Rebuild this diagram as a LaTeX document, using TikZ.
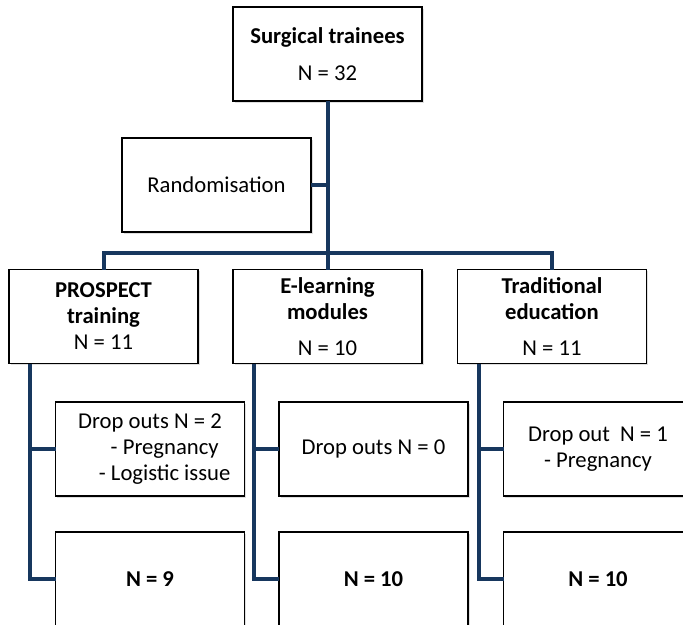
\documentclass[tikz,border=0pt]{standalone}
\usepackage{fontspec}
\setmainfont{Carlito}
\usetikzlibrary{shadows}
\definecolor{linkblue}{RGB}{23,55,94}
\begin{document}
\begin{tikzpicture}[x=0.75pt, y=-0.75pt,
  box/.style={draw=black, line width=0.9pt, fill=white, align=center,
    minimum width=141.75pt, minimum height=70.5pt, inner sep=2pt, outer sep=0pt,
    font=\fontsize{17}{19.5}\selectfont,
    drop shadow={opacity=0.25, shadow xshift=1.2pt, shadow yshift=-1.2pt}},
  link/.style={draw=linkblue, line width=3pt}]
\clip (0,0) rectangle (683,625);
\node[box] (top) at (327.5,54) {\textbf{Surgical trainees}\\[8pt] N = 32};
\node[box] (rand) at (216.5,185) {Randomisation};
\coordinate (split) at (327.5,253);
\node[box] (prospect) at (103.5,316.5) {\textbf{PROSPECT}\\ \textbf{training}\\ N = 11};
\node[box] (elearn) at (327.5,316.5) {\textbf{E-learning}\\ \textbf{modules}\\[7pt] N = 10};
\node[box] (trad) at (552,316.5) {\textbf{Traditional}\\ \textbf{education}\\[7pt] N = 11};
\node[box] (drop1) at (150,449) {Drop outs N = 2\\ \hspace*{22pt}- Pregnancy\\ \hspace*{22pt}- Logistic issue};
\node[box] (drop2) at (373.5,449) {Drop outs N = 0};
\node[box] (drop3) at (598,449) {Drop out~ N = 1\\ - Pregnancy};
\node[box] (final1) at (150,579) {\textbf{N = 9}};
\node[box] (final2) at (373.5,579) {\textbf{N = 10}};
\node[box] (final3) at (598,579) {\textbf{N = 10}};
\coordinate (col1) at ([xshift=15.75pt]prospect.south west);
\coordinate (col2) at ([xshift=15.75pt]elearn.south west);
\coordinate (col3) at ([xshift=15.75pt]trad.south west);
\draw[link] (top.south) -- (split);
\draw[link] (rand.east) -- (rand.east -| split);
\draw[link] (prospect.north) |- (split) -| (trad.north);
\draw[link] (split) -- (elearn.north);
\draw[link] (col1) |- (final1.west);
\draw[link] (drop1.west -| col1) -- (drop1.west);
\draw[link] (col2) |- (final2.west);
\draw[link] (drop2.west -| col2) -- (drop2.west);
\draw[link] (col3) |- (final3.west);
\draw[link] (drop3.west -| col3) -- (drop3.west);
\end{tikzpicture}
\end{document}
